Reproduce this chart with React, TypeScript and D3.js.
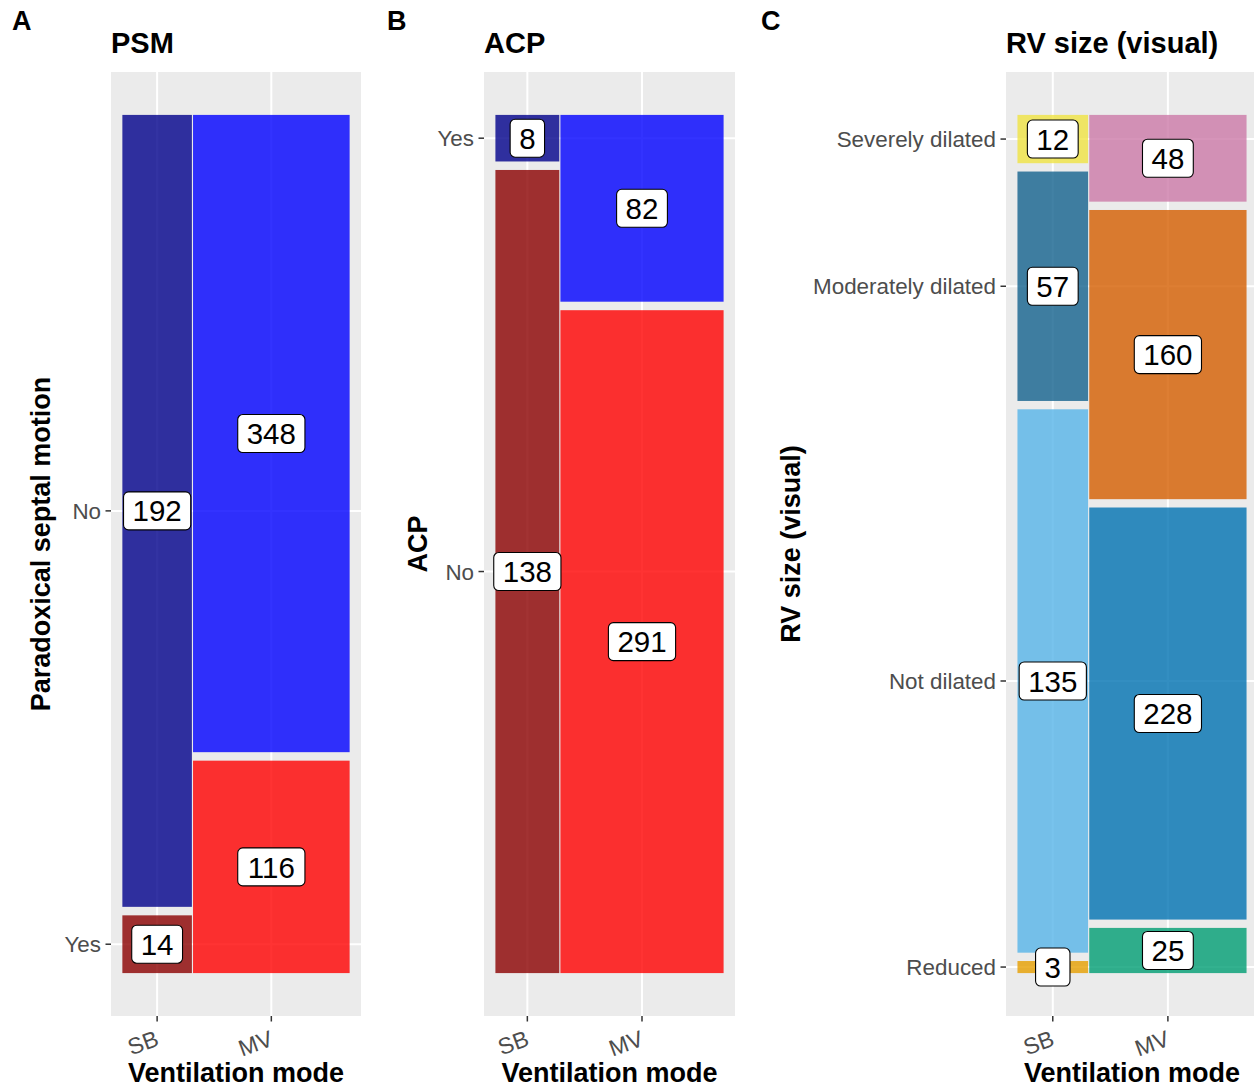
import React from 'react';
import * as d3 from 'd3';

// ---- data ----
const modes = ['SB', 'MV'];

const psmLevels = ['Yes', 'No']; // bottom -> top
const psmSB = [14, 192];
const psmMV = [116, 348];
const psmColSB = ['#8B0000', '#00008B'];
const psmColMV = ['#FF0000', '#0000FF'];

const acpLevels = ['No', 'Yes'];
const acpSB = [138, 8];
const acpMV = [291, 82];
const acpColSB = ['#8B0000', '#00008B'];
const acpColMV = ['#FF0000', '#0000FF'];

const rvLevels = ['Reduced', 'Not dilated', 'Moderately dilated', 'Severely dilated'];
const rvSB = [3, 135, 57, 12];
const rvMV = [25, 228, 160, 48];
const rvColSB = ['#E69F00', '#56B4E9', '#13618D', '#F0E442'];
const rvColMV = ['#009E73', '#0072B2', '#D55E00', '#CC79A7'];

const FONT = '"Liberation Sans", Arial, Helvetica, sans-serif';

interface PanelSpec {
  letter: string;
  letterX: number;
  title: string;
  ytitle: string;
  ytitleX: number;
  levels: string[];
  counts: number[][];
  colors: string[][];
  px0: number;
  px1: number;
}

const PY0 = 72;
const PY1 = 1016;

const panels: PanelSpec[] = [
  { letter: 'A', letterX: 12, title: 'PSM', ytitle: 'Paradoxical septal motion', ytitleX: 50,
    levels: psmLevels, counts: [psmSB, psmMV], colors: [psmColSB, psmColMV], px0: 111, px1: 361 },
  { letter: 'B', letterX: 387, title: 'ACP', ytitle: 'ACP', ytitleX: 427,
    levels: acpLevels, counts: [acpSB, acpMV], colors: [acpColSB, acpColMV], px0: 484, px1: 735 },
  { letter: 'C', letterX: 761, title: 'RV size (visual)', ytitle: 'RV size (visual)', ytitleX: 800,
    levels: rvLevels, counts: [rvSB, rvMV], colors: [rvColSB, rvColMV], px0: 1006, px1: 1258 },
];

function Panel({ p }: { p: PanelSpec }) {
  const gx = 0.005;
  const gy = 0.01;
  const totals = p.counts.map((c) => d3.sum(c));
  const N = d3.sum(totals);
  const Rx = 1 + gx * (totals.length - 1);
  const Ry = 1 + gy * (p.levels.length - 1);
  const x = d3.scaleLinear().domain([-0.05 * Rx, 1.05 * Rx]).range([p.px0, p.px1]);
  const y = d3.scaleLinear().domain([-0.05 * Ry, 1.05 * Ry]).range([PY1, PY0]);

  const rects: { x0: number; x1: number; y0: number; y1: number; fill: string; n: number }[] = [];
  let cx = 0;
  const colCenters: number[] = [];
  const yTickPos: number[] = [];
  totals.forEach((t, j) => {
    const w = t / N;
    const xs = cx;
    const xe = cx + w;
    colCenters.push((xs + xe) / 2);
    let cy = 0;
    p.counts[j].forEach((n, i) => {
      const h = n / t;
      rects.push({ x0: xs, x1: xe, y0: cy, y1: cy + h, fill: p.colors[j][i], n });
      if (j === 0) yTickPos.push(cy + h / 2);
      cy += h + gy;
    });
    cx = xe + gx;
  });

  const fs = 29.5;
  const pad = 9;
  const boxH = 38;
  const midX = (p.px0 + p.px1) / 2;
  const midY = (PY0 + PY1) / 2;

  return (
    <g>
      <text x={p.letterX} y={30} fontFamily={FONT} fontWeight="bold" fontSize={27} fill="#000">{p.letter}</text>
      <text x={p.px0} y={53} fontFamily={FONT} fontWeight="bold" fontSize={29} fill="#000">{p.title}</text>
      <rect x={p.px0} y={PY0} width={p.px1 - p.px0} height={PY1 - PY0} fill="#EBEBEB" />
      {colCenters.map((c, i) => (
        <line key={'gx' + i} x1={x(c)} x2={x(c)} y1={PY0} y2={PY1} stroke="#fff" strokeWidth={2} />
      ))}
      {yTickPos.map((c, i) => (
        <line key={'gy' + i} x1={p.px0} x2={p.px1} y1={y(c)} y2={y(c)} stroke="#fff" strokeWidth={2} />
      ))}
      {rects.map((r, i) => (
        <rect key={'r' + i} x={x(r.x0)} y={y(r.y1)} width={x(r.x1) - x(r.x0)} height={y(r.y0) - y(r.y1)}
          fill={r.fill} fillOpacity={0.8} />
      ))}
      {rects.map((r, i) => {
        const cxp = (x(r.x0) + x(r.x1)) / 2;
        const cyp = (y(r.y0) + y(r.y1)) / 2;
        const s = String(r.n);
        const w = s.length * 0.556 * fs + 2 * pad;
        return (
          <g key={'l' + i}>
            <rect x={cxp - w / 2} y={cyp - boxH / 2} width={w} height={boxH} rx={5} ry={5}
              fill="#fff" stroke="#000" strokeWidth={1.1} />
            <text x={cxp} y={cyp + fs * 0.36} textAnchor="middle" fontFamily={FONT} fontSize={fs} fill="#000">{s}</text>
          </g>
        );
      })}
      {/* y axis */}
      {yTickPos.map((c, i) => (
        <g key={'yt' + i}>
          <line x1={p.px0 - 5.5} x2={p.px0} y1={y(c)} y2={y(c)} stroke="#333" strokeWidth={1.5} />
          <text x={p.px0 - 10} y={y(c) + 8} textAnchor="end" fontFamily={FONT} fontSize={22.4} fill="#4D4D4D">{p.levels[i]}</text>
        </g>
      ))}
      {/* x axis */}
      {colCenters.map((c, i) => (
        <g key={'xt' + i}>
          <line x1={x(c)} x2={x(c)} y1={PY1} y2={PY1 + 5.5} stroke="#333" strokeWidth={1.5} />
          <text transform={`translate(${x(c) + 3},${1045}) rotate(-20)`} textAnchor="end"
            fontFamily={FONT} fontSize={23} fill="#4D4D4D">{modes[i]}</text>
        </g>
      ))}
      <text x={midX} y={1082} textAnchor="middle" fontFamily={FONT} fontWeight="bold" fontSize={27} fill="#000">Ventilation mode</text>
      <text transform={`translate(${p.ytitleX},${midY}) rotate(-90)`} textAnchor="middle"
        fontFamily={FONT} fontWeight="bold" fontSize={27} fill="#000">{p.ytitle}</text>
    </g>
  );
}

export default function App() {
  return (
    <svg width={1254} height={1090} style={{ position: 'absolute', left: 0, top: 0, background: '#fff' }}>
      <rect width={1254} height={1090} fill="#fff" />
      {panels.map((p) => (
        <Panel key={p.letter} p={p} />
      ))}
    </svg>
  );
}
